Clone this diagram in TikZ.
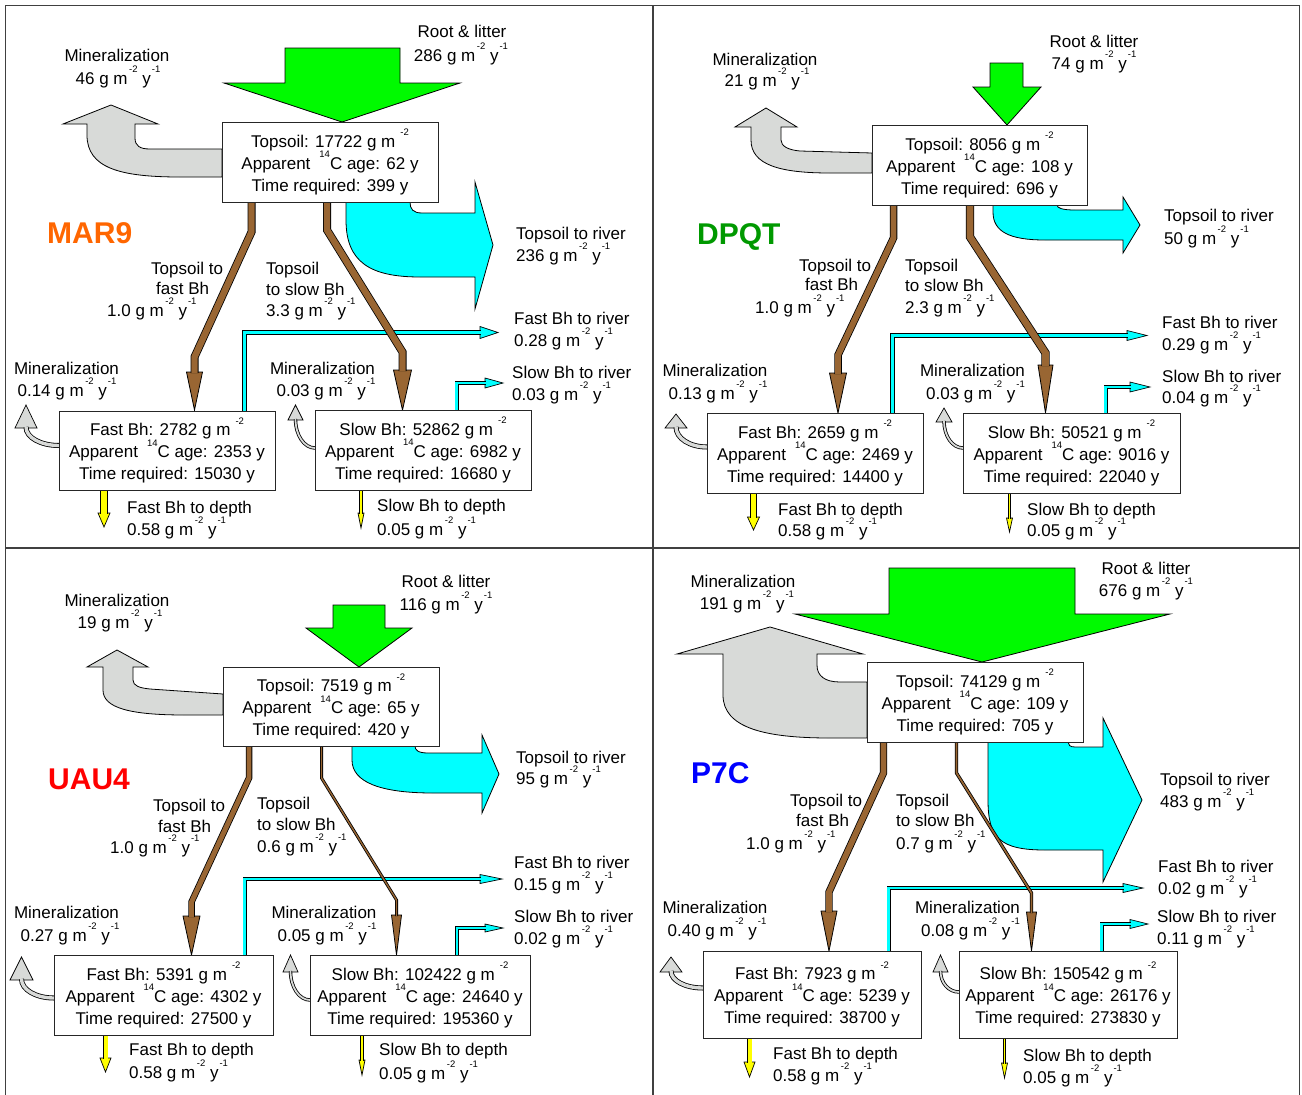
\documentclass[tikz,border=0pt]{standalone}
\usepackage{fontspec}
\setmainfont{Liberation Sans}
\definecolor{gfill}{RGB}{0,250,0}
\definecolor{mgrey}{RGB}{216,218,216}
\definecolor{cyanf}{RGB}{0,255,255}
\definecolor{brownf}{RGB}{153,102,51}
\definecolor{yel}{RGB}{255,255,0}
\definecolor{orangeT}{RGB}{255,102,0}
\definecolor{greenT}{RGB}{0,153,0}
\definecolor{redT}{RGB}{255,0,0}
\definecolor{blueT}{RGB}{0,0,255}
\newcommand\sps[1]{\raisebox{11.5pt}[0pt][0pt]{\fontsize{9.5}{9.5}\selectfont #1}}
\newcommand\gmy{g m\kern1.5pt\sps{-2} y\kern1pt\sps{-1}}
\newcommand\bt[3]{\rule{0pt}{17.6pt}#1 g m\kern5pt\sps{-2}\\Apparent\kern9pt\sps{14}C age: #2 y\\Time required: #3 y\rule[-3.6pt]{0pt}{0pt}}
\tikzset{
 lbl/.style={inner sep=0pt, font=\fontsize{17}{22}\selectfont},
 bigbox/.style={draw=black!85, line width=1pt, fill=white, inner sep=0pt, align=center, font=\fontsize{17}{22}\selectfont},
 flowshape/.style={draw=black, line width=0.8pt, line join=miter},
 frameline/.style={draw=black!75, line width=1.4pt},
 sitename/.style={inner sep=0pt, anchor=base west, font=\fontsize{30}{30}\selectfont\bfseries},
}
\newcommand\pipe[3]{\draw[black,line width=#2+1.6,line join=miter] #3; \draw[#1,line width=#2,line join=miter] #3;}
\newcommand\brarrow[9]{%
 \filldraw[flowshape,fill=brownf] (#5-#8,#7) -- (#5,#9) -- (#5+#8,#7) -- cycle;
 \pipe{brownf}{#1}{(#2,#3) -- (#2,#4) -- (#5,#6) -- (#5,#7+1)}}
\newcommand\cyarrow[7]{%
 \filldraw[flowshape,line width=0.7pt,fill=cyanf] (#5,#4-#6) -- (#7,#4) -- (#5,#4+#6) -- cycle;
 \pipe{cyanf}{#1}{(#2,#3) -- (#2,#4) -- (#5+1,#4)}}
\newcommand\mnarrow[7]{%
 \filldraw[flowshape,line width=0.7pt,fill=mgrey] (#4-#6,#5) -- (#4,#7) -- (#4+#6,#5) -- cycle;
 \pipe{mgrey}{#1}{(#2,#3) .. controls ({#4+0.45*(#2-#4)},#3) and (#4,{#5+0.55*(#3-#5)}) .. (#4,#5-1)}}
\newcommand\ydarrow[6]{%
 \filldraw[flowshape,line width=0.7pt,fill=yel] (#2-#5,#4) -- (#2,#6) -- (#2+#5,#4) -- cycle;
 \pipe{yel}{#1}{(#2,#3) -- (#2,#4+1)}}
\newcommand\lbl[4]{\node[lbl,anchor=base west] (#1) at (#2,#3+6) {#4};}
\newcommand\lblc[4]{\node[lbl,anchor=base] (#1) at (#2,#3+6) {#4};}
\begin{document}
\begin{tikzpicture}[x=1pt,y=-1pt]
\useasboundingbox (0,0) rectangle (1302,1095);
\fill[white] (0,0) rectangle (1302,1095);
% frame
\draw[frameline] (5.5,1100) -- (5.5,5.5) -- (1299.5,5.5) -- (1299.5,1100);
\draw[frameline] (653,5.5) -- (653,1100);
\draw[frameline] (5.5,548) -- (1299.5,548);

%%%%%%%% MAR9
\filldraw[flowshape,fill=mgrey] (222,149) -- (150,149) .. controls (140,149) and (135,146) .. (135,138) -- (135,124) -- (158,124) -- (111,105) -- (63,124) -- (87,124) -- (87,135) .. controls (87,168) and (120,177) .. (180,177) -- (222,177) -- cycle;
\filldraw[flowshape,fill=gfill] (285,48) -- (400,48) -- (400,83) -- (460,83) -- (342,122) -- (224,83) -- (285,83) -- cycle;
\filldraw[flowshape,fill=cyanf] (346,202) -- (346,220) .. controls (346,262) and (370,277) .. (420,277) -- (475,277) -- (475,309) -- (493,245) -- (475,182) -- (475,213) -- (422,213) .. controls (413,213) and (410,209) .. (410,202) -- cycle;
\cyarrow{3.4}{244.5}{411}{332.5}{480}{6}{498}
\cyarrow{2.4}{456.5}{410}{383}{485}{5}{503}
\brarrow{6.4}{251.5}{202}{232}{194.5}{357}{372}{8}{410}
\brarrow{6.4}{327}{202}{230}{402.5}{352}{370}{9}{410}
\mnarrow{3.4}{59}{445.5}{26}{428}{11}{405}
\mnarrow{1.8}{315}{448}{295.5}{420}{7.5}{405}
\ydarrow{6}{104}{490}{513}{6}{527}
\ydarrow{1.5}{361}{490}{513}{3}{528}
\node[bigbox,minimum width=216,minimum height=80] (aT) at (330,162) {\bt{Topsoil: 17722}{62}{399}};
\node[bigbox,minimum width=216,minimum height=79] (aF) at (167,450.5) {\bt{Fast Bh: 2782}{2353}{15030}};
\node[bigbox,minimum width=216,minimum height=80] (aS) at (423,450) {\bt{Slow Bh: 52862}{6982}{16680}};
\lblc{aRL1}{462}{31}{Root \& litter}
\lblc{aRL2}{461}{55}{286 \gmy}
\lblc{aMT1}{117}{55}{Mineralization}
\lblc{aMT2}{118}{78}{46 \gmy}
\node[sitename,text=orangeT] (aName) at (47,243) {MAR9};
\lbl{aTR1}{516}{233}{Topsoil to river}
\lbl{aTR2}{516}{255}{236 \gmy}
\lbl{aTF1}{151}{268}{Topsoil to}
\lbl{aTF2}{156}{288}{fast Bh}
\lbl{aTF3}{107}{310}{1.0 \gmy}
\lbl{aTS1}{266}{268}{Topsoil}
\lbl{aTS2}{266}{289}{to slow Bh}
\lbl{aTS3}{266}{310}{3.3 \gmy}
\lbl{aFR1}{514}{318}{Fast Bh to river}
\lbl{aFR2}{514}{340}{0.28 \gmy}
\lbl{aSR1}{512}{372}{Slow Bh to river}
\lbl{aSR2}{512}{394}{0.03 \gmy}
\lblc{aMF1}{66.5}{368}{Mineralization}
\lblc{aMF2}{67}{390}{0.14 \gmy}
\lblc{aMS1}{322.5}{368}{Mineralization}
\lblc{aMS2}{326}{390}{0.03 \gmy}
\lbl{aFD1}{127}{507}{Fast Bh to depth}
\lbl{aFD2}{127}{529}{0.58 \gmy}
\lbl{aSD1}{377}{505}{Slow Bh to depth}
\lbl{aSD2}{377}{529}{0.05 \gmy}

%%%%%%%% DPQT
\filldraw[flowshape,fill=mgrey] (872,153) -- (800,151) .. controls (788,150) and (781,146) .. (781,140) -- (781,127) -- (797,127) -- (766,108) -- (735,127) -- (751,127) -- (751,140) .. controls (751,165) and (780,173) .. (830,173) -- (872,173) -- cycle;
\filldraw[flowshape,fill=gfill] (990,63) -- (1023,63) -- (1023,87) -- (1041,87) -- (1007,125) -- (973,87) -- (990,87) -- cycle;
\filldraw[flowshape,fill=cyanf] (993,205) -- (993,212) .. controls (993,232) and (1010,240) .. (1045,240) -- (1123,240) -- (1123,253) -- (1140,225) -- (1123,197) -- (1123,210) -- (1075,210) .. controls (1062,210) and (1057,208) .. (1057,205) -- cycle;
\cyarrow{3.4}{892.5}{413}{335.5}{1127}{5}{1147}
\cyarrow{2.4}{1105.5}{413}{387}{1130}{5}{1150}
\brarrow{5.9}{893.5}{205}{238}{838}{355}{373}{8.5}{413}
\brarrow{6.7}{970}{205}{237}{1045.5}{353}{365}{7.5}{413}
\mnarrow{3.4}{707}{447}{676}{428}{11}{414}
\mnarrow{1.8}{963}{448}{944}{422}{8}{408}
\ydarrow{5.5}{753.5}{493}{517}{6}{530}
\ydarrow{1.5}{1009.5}{493}{518}{3}{532}
\node[bigbox,minimum width=215,minimum height=80] (bT) at (979.5,165) {\bt{Topsoil: 8056}{108}{696}};
\node[bigbox,minimum width=216,minimum height=80] (bF) at (815,453) {\bt{Fast Bh: 2659}{2469}{14400}};
\node[bigbox,minimum width=217,minimum height=80] (bS) at (1071.5,453) {\bt{Slow Bh: 50521}{9016}{22040}};
\lblc{bRL1}{1094}{41}{Root \& litter}
\lblc{bRL2}{1094}{63}{74 \gmy}
\lblc{bMT1}{765}{59}{Mineralization}
\lblc{bMT2}{767}{80}{21 \gmy}
\node[sitename,text=greenT] (bName) at (697,244) {DPQT};
\lbl{bTR1}{1164}{215}{Topsoil to river}
\lbl{bTR2}{1164}{238}{50 \gmy}
\lbl{bTF1}{799}{265}{Topsoil to}
\lbl{bTF2}{805}{284}{fast Bh}
\lbl{bTF3}{755}{307}{1.0 \gmy}
\lbl{bTS1}{905}{265}{Topsoil}
\lbl{bTS2}{905}{285}{to slow Bh}
\lbl{bTS3}{905}{307}{2.3 \gmy}
\lbl{bFR1}{1162}{322}{Fast Bh to river}
\lbl{bFR2}{1162}{344}{0.29 \gmy}
\lbl{bSR1}{1162}{376}{Slow Bh to river}
\lbl{bSR2}{1162}{397}{0.04 \gmy}
\lblc{bMF1}{715}{370}{Mineralization}
\lblc{bMF2}{718}{393}{0.13 \gmy}
\lblc{bMS1}{972.5}{370}{Mineralization}
\lblc{bMS2}{975.5}{393}{0.03 \gmy}
\lbl{bFD1}{778}{509}{Fast Bh to depth}
\lbl{bFD2}{778}{530}{0.58 \gmy}
\lbl{bSD1}{1027}{509}{Slow Bh to depth}
\lbl{bSD2}{1027}{530}{0.05 \gmy}

%%%%%%%% UAU4
\filldraw[flowshape,fill=mgrey] (223,694) -- (150,689) .. controls (140,688) and (133,686) .. (133,680) -- (133,667) -- (148,667) -- (117,650) -- (87,667) -- (103,667) -- (103,690) .. controls (103,708) and (130,715) .. (185,715) -- (223,715) -- cycle;
\filldraw[flowshape,fill=gfill] (333,605) -- (385,605) -- (385,628) -- (412,628) -- (359,667) -- (306,628) -- (333,628) -- cycle;
\filldraw[flowshape,fill=cyanf] (352,746) -- (352,760) .. controls (352,782) and (380,793) .. (433,793) -- (482,793) -- (482,813) -- (499,774) -- (482,735) -- (482,753) -- (428,753) .. controls (418,753) and (415,750) .. (415,746) -- cycle;
\cyarrow{2.4}{244.5}{955}{879}{480}{4.5}{502}
\cyarrow{2.4}{457}{955}{928}{485}{4}{503}
\brarrow{4.9}{249}{746}{778}{191.5}{902}{916}{8.5}{955}
\brarrow{1.4}{321.5}{746}{778}{396.5}{900}{915}{5}{955}
\mnarrow{3.4}{54}{998}{21.5}{980}{11.5}{957}
\mnarrow{1.8}{310}{1000}{290.5}{972}{7.5}{955}
\ydarrow{4}{105.5}{1035}{1058}{5.5}{1072}
\ydarrow{1.5}{362}{1035}{1060}{3}{1075}
\node[bigbox,minimum width=216,minimum height=79] (cT) at (331,706.5) {\bt{Topsoil: 7519}{65}{420}};
\node[bigbox,minimum width=219,minimum height=80] (cF) at (163.5,995) {\bt{Fast Bh: 5391}{4302}{27500}};
\node[bigbox,minimum width=220,minimum height=80] (cS) at (420,995) {\bt{Slow Bh: 102422}{24640}{195360}};
\lblc{cRL1}{446}{581}{Root \& litter}
\lblc{cRL2}{446}{604}{116 \gmy}
\lblc{cMT1}{117}{600}{Mineralization}
\lblc{cMT2}{120}{622}{19 \gmy}
\node[sitename,text=redT] (cName) at (48,789) {UAU4};
\lbl{cTR1}{516}{757}{Topsoil to river}
\lbl{cTR2}{516}{778}{95 \gmy}
\lbl{cTF1}{153}{805}{Topsoil to}
\lbl{cTF2}{158}{826}{fast Bh}
\lbl{cTF3}{110}{847}{1.0 \gmy}
\lbl{cTS1}{257}{803}{Topsoil}
\lbl{cTS2}{257}{824}{to slow Bh}
\lbl{cTS3}{257}{846}{0.6 \gmy}
\lbl{cFR1}{514}{862}{Fast Bh to river}
\lbl{cFR2}{514}{884}{0.15 \gmy}
\lbl{cSR1}{514}{916}{Slow Bh to river}
\lbl{cSR2}{514}{938}{0.02 \gmy}
\lblc{cMF1}{66.5}{912}{Mineralization}
\lblc{cMF2}{70}{935}{0.27 \gmy}
\lblc{cMS1}{324}{912}{Mineralization}
\lblc{cMS2}{327}{935}{0.05 \gmy}
\lbl{cFD1}{129}{1049}{Fast Bh to depth}
\lbl{cFD2}{129}{1072}{0.58 \gmy}
\lbl{cSD1}{379}{1049}{Slow Bh to depth}
\lbl{cSD2}{379}{1073}{0.05 \gmy}

%%%%%%%% P7C
\filldraw[flowshape,fill=mgrey] (867,682) -- (840,682) .. controls (825,682) and (817,676) .. (817,665) -- (817,654) -- (863,654) -- (770,627) -- (677,654) -- (723,654) -- (723,695) .. controls (723,728) and (765,738) .. (830,738) -- (867,738) -- cycle;
\filldraw[flowshape,fill=gfill] (889,568) -- (1075,568) -- (1075,614) -- (1170,614) -- (982,662) -- (795,614) -- (889,614) -- cycle;
\filldraw[flowshape,fill=cyanf] (988,742) -- (988,800) .. controls (988,838) and (1000,850) .. (1045,850) -- (1103,850) -- (1103,882) -- (1142,800) -- (1103,718) -- (1103,747) -- (1075,747) .. controls (1070,747) and (1068,745) .. (1068,742) -- cycle;
\cyarrow{2.4}{888.5}{951}{888}{1123}{4.5}{1143}
\cyarrow{2.4}{1101.5}{951}{924}{1130}{4.5}{1148}
\brarrow{5.7}{883.5}{742}{773}{829}{892}{911}{8}{951}
\brarrow{1.7}{956.5}{742}{773}{1031.5}{893}{912}{5}{951}
\mnarrow{3.4}{703}{988}{671}{972}{11}{957}
\mnarrow{1.8}{959}{992}{940.5}{972}{7.5}{955}
\ydarrow{4}{749.5}{1038}{1062}{5.5}{1077}
\ydarrow{1.5}{1004.5}{1038}{1063}{3}{1078}
\node[bigbox,minimum width=216,minimum height=80] (dT) at (975,702) {\bt{Topsoil: 74129}{109}{705}};
\node[bigbox,minimum width=218,minimum height=87] (dF) at (812,994.5) {\bt{Fast Bh: 7923}{5239}{38700}};
\node[bigbox,minimum width=218,minimum height=87] (dS) at (1068,994.5) {\bt{Slow Bh: 150542}{26176}{273830}};
\lblc{dRL1}{1146}{568}{Root \& litter}
\lblc{dRL2}{1146}{590}{676 \gmy}
\lblc{dMT1}{743}{581}{Mineralization}
\lblc{dMT2}{747}{603}{191 \gmy}
\node[sitename,text=blueT] (dName) at (691,783) {P7C};
\lbl{dTR1}{1160}{779}{Topsoil to river}
\lbl{dTR2}{1160}{801}{483 \gmy}
\lbl{dTF1}{790}{800}{Topsoil to}
\lbl{dTF2}{796}{820}{fast Bh}
\lbl{dTF3}{746}{843}{1.0 \gmy}
\lbl{dTS1}{896}{800}{Topsoil}
\lbl{dTS2}{896}{820}{to slow Bh}
\lbl{dTS3}{896}{843}{0.7 \gmy}
\lbl{dFR1}{1158}{866}{Fast Bh to river}
\lbl{dFR2}{1158}{888}{0.02 \gmy}
\lbl{dSR1}{1157}{916}{Slow Bh to river}
\lbl{dSR2}{1157}{938}{0.11 \gmy}
\lblc{dMF1}{715}{907}{Mineralization}
\lblc{dMF2}{717}{930}{0.40 \gmy}
\lblc{dMS1}{967.5}{907}{Mineralization}
\lblc{dMS2}{970.5}{930}{0.08 \gmy}
\lbl{dFD1}{773}{1053}{Fast Bh to depth}
\lbl{dFD2}{773}{1075}{0.58 \gmy}
\lbl{dSD1}{1023}{1055}{Slow Bh to depth}
\lbl{dSD2}{1023}{1077}{0.05 \gmy}
\end{tikzpicture}
\end{document}
